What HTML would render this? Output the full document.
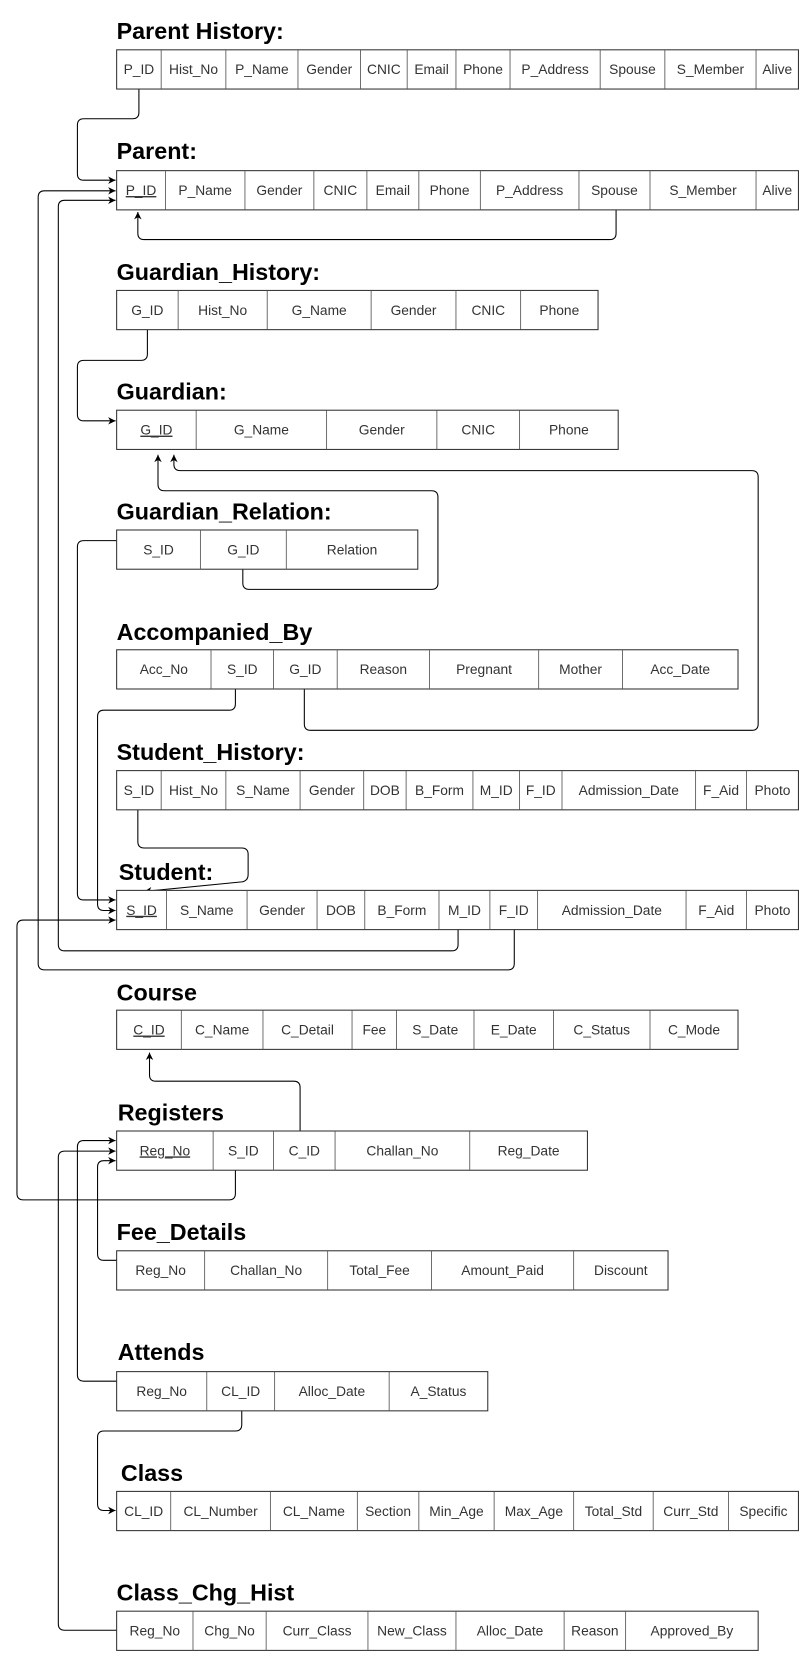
<!DOCTYPE html>
<html><head><meta charset="utf-8"><style>
html,body{margin:0;padding:0;background:#fff;width:808px;height:1661px;overflow:hidden}
svg{display:block}
.t{font-family:"Liberation Sans",Arial,sans-serif;font-size:13px;fill:#333;text-anchor:middle}
.h{font-family:"Liberation Sans",Arial,sans-serif;font-size:22px;font-weight:bold;fill:#000}
.u{text-decoration:underline}
.b{fill:#fff;stroke:#333;stroke-width:1}
.d{stroke:#555;stroke-width:0.8}
.c{fill:none;stroke:#000;stroke-width:1;stroke-linejoin:round}
</style></head><body>
<svg width="808" height="1661" viewBox="0 0 762 1567" preserveAspectRatio="none" xmlns="http://www.w3.org/2000/svg">
<defs><marker id="a" markerWidth="8" markerHeight="8" refX="7" refY="4" orient="auto" markerUnits="userSpaceOnUse"><path d="M0,0.5 L7,4 L0,7.5 L2,4 z" fill="#000"/></marker></defs>

<!-- connectors -->
<g class="c">
<path d="M131,84 V106 Q131,112 125,112 H79 Q73,112 73,118 V164 Q73,170 79,170 H109" marker-end="url(#a)"/>
<path d="M581,198 V220 Q581,226 575,226 H136 Q130,226 130,220 V200" marker-end="url(#a)"/>
<path d="M485,877 V909 Q485,915 479,915 H42 Q36,915 36,909 V186 Q36,180 42,180 H109" marker-end="url(#a)"/>
<path d="M432,877 V891 Q432,897 426,897 H61 Q55,897 55,891 V195 Q55,189 61,189 H109" marker-end="url(#a)"/>
<path d="M139,311 V334 Q139,340 133,340 H79 Q73,340 73,346 V391 Q73,397 79,397 H109" marker-end="url(#a)"/>
<path d="M229,537 V550 Q229,556 235,556 H407 Q413,556 413,550 V469 Q413,463 407,463 H155 Q149,463 149,457 V429" marker-end="url(#a)"/>
<path d="M287,650 V683 Q287,689 293,689 H709 Q715,689 715,683 V450 Q715,444 709,444 H170 Q164,444 164,438 V429" marker-end="url(#a)"/>
<path d="M110,510 H79 Q73,510 73,516 V843 Q73,849 79,849 H109" marker-end="url(#a)"/>
<path d="M222,650 V664 Q222,670 216,670 H98 Q92,670 92,676 V853 Q92,859 98,859 H109" marker-end="url(#a)"/>
<path d="M130,764 V794 Q130,800 136,800 H228 Q234,800 234,806 V825 Q234,831 228,832 L136,841" marker-end="url(#a)"/>
<path d="M222,1104 V1126 Q222,1132 216,1132 H22 Q16,1132 16,1126 V874 Q16,868 22,868 H109" marker-end="url(#a)"/>
<path d="M283,1067 V1026 Q283,1020 277,1020 H147 Q141,1020 141,1014 V993" marker-end="url(#a)"/>
<path d="M110,1189 H98 Q92,1189 92,1183 V1101 Q92,1095 98,1095 H109" marker-end="url(#a)"/>
<path d="M110,1303 H79 Q73,1303 73,1297 V1082 Q73,1076 79,1076 H109" marker-end="url(#a)"/>
<path d="M110,1538 H61 Q55,1538 55,1532 V1092 Q55,1086 61,1086 H109" marker-end="url(#a)"/>
<path d="M228,1331 V1344 Q228,1350 222,1350 H98 Q92,1350 92,1356 V1419 Q92,1425 98,1425 H109" marker-end="url(#a)"/>
</g>

<!-- Parent History -->
<text class="h" x="110" y="37">Parent History:</text>
<rect class="b" x="110" y="47" width="643" height="37"/>
<path class="d" d="M152,47V84M213,47V84M281,47V84M340,47V84M384,47V84M430,47V84M481,47V84M566,47V84M627,47V84M713,47V84"/>
<g class="t"><text x="131" y="70">P_ID</text><text x="182.5" y="70">Hist_No</text><text x="247" y="70">P_Name</text><text x="310.5" y="70">Gender</text><text x="362" y="70">CNIC</text><text x="407" y="70">Email</text><text x="455.5" y="70">Phone</text><text x="523.5" y="70">P_Address</text><text x="596.5" y="70">Spouse</text><text x="670" y="70">S_Member</text><text x="733" y="70">Alive</text></g>

<!-- Parent -->
<text class="h" x="110" y="150">Parent:</text>
<rect class="b" x="110" y="161" width="643" height="37"/>
<path class="d" d="M156,161V198M231,161V198M296,161V198M346,161V198M395,161V198M453,161V198M546,161V198M613,161V198M713,161V198"/>
<g class="t"><text class="t u" x="133" y="184">P_ID</text><text x="193.5" y="184">P_Name</text><text x="263.5" y="184">Gender</text><text x="321" y="184">CNIC</text><text x="370.5" y="184">Email</text><text x="424" y="184">Phone</text><text x="499.5" y="184">P_Address</text><text x="579.5" y="184">Spouse</text><text x="663" y="184">S_Member</text><text x="733" y="184">Alive</text></g>

<!-- Guardian_History -->
<text class="h" x="110" y="264">Guardian_History:</text>
<rect class="b" x="110" y="274" width="454" height="37"/>
<path class="d" d="M168,274V311M252,274V311M350,274V311M430,274V311M491,274V311"/>
<g class="t"><text x="139" y="297">G_ID</text><text x="210" y="297">Hist_No</text><text x="301" y="297">G_Name</text><text x="390" y="297">Gender</text><text x="460.5" y="297">CNIC</text><text x="527.5" y="297">Phone</text></g>

<!-- Guardian -->
<text class="h" x="110" y="377">Guardian:</text>
<rect class="b" x="110" y="387" width="473" height="37"/>
<path class="d" d="M185,387V424M308,387V424M412,387V424M490,387V424"/>
<g class="t"><text class="t u" x="147.5" y="410">G_ID</text><text x="246.5" y="410">G_Name</text><text x="360" y="410">Gender</text><text x="451" y="410">CNIC</text><text x="536.5" y="410">Phone</text></g>

<!-- Guardian_Relation -->
<text class="h" x="110" y="490">Guardian_Relation:</text>
<rect class="b" x="110" y="500" width="284" height="37"/>
<path class="d" d="M189,500V537M270,500V537"/>
<g class="t"><text x="149.5" y="523">S_ID</text><text x="229.5" y="523">G_ID</text><text x="332" y="523">Relation</text></g>

<!-- Accompanied_By -->
<text class="h" x="110" y="604">Accompanied_By</text>
<rect class="b" x="110" y="613" width="586" height="37"/>
<path class="d" d="M199,613V650M258,613V650M318,613V650M405,613V650M508,613V650M587,613V650"/>
<g class="t"><text x="154.5" y="636">Acc_No</text><text x="228.5" y="636">S_ID</text><text x="288" y="636">G_ID</text><text x="361.5" y="636">Reason</text><text x="456.5" y="636">Pregnant</text><text x="547.5" y="636">Mother</text><text x="641.5" y="636">Acc_Date</text></g>

<!-- Student_History -->
<text class="h" x="110" y="717">Student_History:</text>
<rect class="b" x="110" y="727" width="643" height="37"/>
<path class="d" d="M152,727V764M213,727V764M283,727V764M343,727V764M383,727V764M446,727V764M490,727V764M530,727V764M656,727V764M704,727V764"/>
<g class="t"><text x="131" y="750">S_ID</text><text x="182.5" y="750">Hist_No</text><text x="248" y="750">S_Name</text><text x="313" y="750">Gender</text><text x="363" y="750">DOB</text><text x="414.5" y="750">B_Form</text><text x="468" y="750">M_ID</text><text x="510" y="750">F_ID</text><text x="593" y="750">Admission_Date</text><text x="680" y="750">F_Aid</text><text x="728.5" y="750">Photo</text></g>

<!-- Student -->
<text class="h" x="112" y="830">Student:</text>
<rect class="b" x="110" y="840" width="643" height="37"/>
<path class="d" d="M157,840V877M233,840V877M299,840V877M344,840V877M414,840V877M462,840V877M507,840V877M647,840V877M704,840V877"/>
<g class="t"><text class="t u" x="133.5" y="863">S_ID</text><text x="195" y="863">S_Name</text><text x="266" y="863">Gender</text><text x="321.5" y="863">DOB</text><text x="379" y="863">B_Form</text><text x="438" y="863">M_ID</text><text x="484.5" y="863">F_ID</text><text x="577" y="863">Admission_Date</text><text x="675.5" y="863">F_Aid</text><text x="728.5" y="863">Photo</text></g>

<!-- Course -->
<text class="h" x="110" y="944">Course</text>
<rect class="b" x="110" y="953" width="586" height="37"/>
<path class="d" d="M171,953V990M248,953V990M332,953V990M374,953V990M447,953V990M522,953V990M613,953V990"/>
<g class="t"><text class="t u" x="140.5" y="976">C_ID</text><text x="209.5" y="976">C_Name</text><text x="290" y="976">C_Detail</text><text x="353" y="976">Fee</text><text x="410.5" y="976">S_Date</text><text x="484.5" y="976">E_Date</text><text x="567.5" y="976">C_Status</text><text x="654.5" y="976">C_Mode</text></g>

<!-- Registers -->
<text class="h" x="111" y="1057">Registers</text>
<rect class="b" x="110" y="1067" width="444" height="37"/>
<path class="d" d="M201,1067V1104M258,1067V1104M316,1067V1104M443,1067V1104"/>
<g class="t"><text class="t u" x="155.5" y="1090">Reg_No</text><text x="229.5" y="1090">S_ID</text><text x="287" y="1090">C_ID</text><text x="379.5" y="1090">Challan_No</text><text x="498.5" y="1090">Reg_Date</text></g>

<!-- Fee_Details -->
<text class="h" x="110" y="1170">Fee_Details</text>
<rect class="b" x="110" y="1180" width="520" height="37"/>
<path class="d" d="M193,1180V1217M309,1180V1217M407,1180V1217M541,1180V1217"/>
<g class="t"><text x="151.5" y="1203">Reg_No</text><text x="251" y="1203">Challan_No</text><text x="358" y="1203">Total_Fee</text><text x="474" y="1203">Amount_Paid</text><text x="585.5" y="1203">Discount</text></g>

<!-- Attends -->
<text class="h" x="111" y="1283">Attends</text>
<rect class="b" x="110" y="1294" width="350" height="37"/>
<path class="d" d="M195,1294V1331M259,1294V1331M367,1294V1331"/>
<g class="t"><text x="152.5" y="1317">Reg_No</text><text x="227" y="1317">CL_ID</text><text x="313" y="1317">Alloc_Date</text><text x="413.5" y="1317">A_Status</text></g>

<!-- Class -->
<text class="h" x="114" y="1397">Class</text>
<rect class="b" x="110" y="1407" width="643" height="37"/>
<path class="d" d="M161,1407V1444M255,1407V1444M337,1407V1444M395,1407V1444M466,1407V1444M541,1407V1444M616,1407V1444M687,1407V1444"/>
<g class="t"><text x="135.5" y="1430">CL_ID</text><text x="208" y="1430">CL_Number</text><text x="296" y="1430">CL_Name</text><text x="366" y="1430">Section</text><text x="430.5" y="1430">Min_Age</text><text x="503.5" y="1430">Max_Age</text><text x="578.5" y="1430">Total_Std</text><text x="651.5" y="1430">Curr_Std</text><text x="720" y="1430">Specific</text></g>

<!-- Class_Chg_Hist -->
<text class="h" x="110" y="1510">Class_Chg_Hist</text>
<rect class="b" x="110" y="1520" width="605" height="37"/>
<path class="d" d="M182,1520V1557M251,1520V1557M347,1520V1557M430,1520V1557M532,1520V1557M590,1520V1557"/>
<g class="t"><text x="146" y="1543">Reg_No</text><text x="216.5" y="1543">Chg_No</text><text x="299" y="1543">Curr_Class</text><text x="388.5" y="1543">New_Class</text><text x="481" y="1543">Alloc_Date</text><text x="561" y="1543">Reason</text><text x="652.5" y="1543">Approved_By</text></g>
</svg>
</body></html>
